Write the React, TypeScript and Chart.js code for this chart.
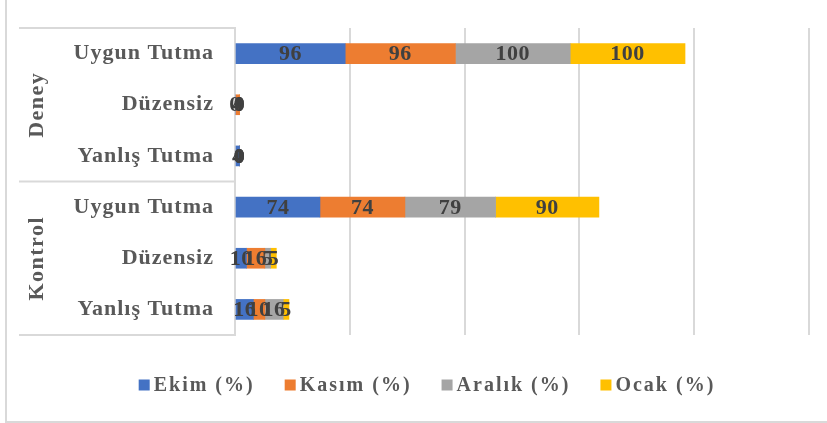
import React, { useEffect, useRef } from "react";
import { Chart, registerables } from "chart.js";

Chart.register(...registerables);

const categories = ["Uygun Tutma", "Düzensiz", "Yanlış Tutma", "Uygun Tutma", "Düzensiz", "Yanlış Tutma"];
const groups = ["Deney", "Kontrol"];
const groupSizes = [3, 3];
const seriesNames = ["Ekim (%)", "Kasım (%)", "Aralık (%)", "Ocak (%)"];
const seriesColors = ["#4472C4", "#ED7D31", "#A5A5A5", "#FFC000"];
const ekim = [96, 0, 4, 74, 10, 16];
const kasim = [96, 4, 0, 74, 16, 10];
const aralik = [100, 0, 0, 79, 5, 16];
const ocak = [100, 0, 0, 90, 5, 5];
const xMax = 500;
const xStep = 100;

const FONT = "'Liberation Serif', 'Times New Roman', serif";
const GRID = "#d9d9d9";

const spacingPlugin = {
  id: "spacing",
  beforeLayout(chart: any) {
    chart.ctx.letterSpacing = "1px";
  },
  beforeDraw(chart: any) {
    chart.ctx.letterSpacing = "1px";
  },
};

const decorPlugin = {
  id: "decor",
  afterDatasetsDraw(chart: any) {
    const ctx = chart.ctx;
    ctx.save();
    ctx.letterSpacing = "0.5px";
    ctx.font = `bold 22px ${FONT}`;
    ctx.fillStyle = "#404040";
    ctx.textAlign = "center";
    ctx.textBaseline = "middle";
    chart.data.datasets.forEach((ds: any, di: number) => {
      const meta = chart.getDatasetMeta(di);
      meta.data.forEach((el: any, i: number) => {
        const x = (el.x + el.base) / 2;
        ctx.fillText(String(ds.data[i]), x, el.y + 1);
      });
    });
    ctx.restore();
  },
  afterDraw(chart: any) {
    const ctx = chart.ctx;
    const y = chart.scales.y;
    const area = chart.chartArea;
    ctx.save();
    ctx.strokeStyle = GRID;
    ctx.lineWidth = 2;
    const boundaries: number[] = [area.top];
    let idx = 0;
    groupSizes.forEach((n) => {
      idx += n;
      if (idx < categories.length) {
        boundaries.push((y.getPixelForValue(idx - 1) + y.getPixelForValue(idx)) / 2);
      }
    });
    boundaries.push(area.bottom);
    boundaries.forEach((b) => {
      ctx.beginPath();
      ctx.moveTo(19, b);
      ctx.lineTo(area.left, b);
      ctx.stroke();
    });
    ctx.letterSpacing = "1.5px";
    ctx.font = `bold 22px ${FONT}`;
    ctx.fillStyle = "#595959";
    ctx.textAlign = "center";
    ctx.textBaseline = "middle";
    for (let g = 0; g < groups.length; g++) {
      const cy = (boundaries[g] + boundaries[g + 1]) / 2;
      ctx.save();
      ctx.translate(37, cy);
      ctx.rotate(-Math.PI / 2);
      ctx.fillText(groups[g], 0, 0);
      ctx.restore();
    }
    ctx.letterSpacing = "2px";
    ctx.font = `bold 20px ${FONT}`;
    ctx.textAlign = "left";
    const box = 11;
    const gap = 4;
    const itemGap = 30;
    const items = chart.data.datasets.map((ds: any) => ({
      label: ds.label,
      color: ds.backgroundColor,
      w: ctx.measureText(ds.label).width,
    }));
    const total = items.reduce((s: number, it: any) => s + box + gap + it.w, 0) + itemGap * (items.length - 1);
    let x = 427 - total / 2;
    const ly = 385;
    items.forEach((it: any) => {
      ctx.fillStyle = it.color;
      ctx.fillRect(x, ly - box / 2, box, box);
      ctx.fillStyle = "#595959";
      ctx.fillText(it.label, x + box + gap, ly + 1);
      x += box + gap + it.w + itemGap;
    });
    ctx.restore();
  },
};

export default function App() {
  const ref = useRef<HTMLCanvasElement>(null);
  useEffect(() => {
    if (!ref.current) return;
    const values = [ekim, kasim, aralik, ocak];
    const chart = new Chart(ref.current, {
      type: "bar",
      data: {
        labels: categories,
        datasets: seriesNames.map((name, i) => ({
          label: name,
          data: values[i],
          backgroundColor: seriesColors[i],
          borderWidth: 0,
          barThickness: 20,
        })),
      },
      options: {
        indexAxis: "y",
        animation: false,
        responsive: false,
        layout: { padding: { top: 28, right: 18, bottom: 88, left: 0 } },
        plugins: { legend: { display: false }, tooltip: { enabled: false } },
        scales: {
          x: {
            stacked: true,
            min: 0,
            max: xMax,
            ticks: { stepSize: xStep, display: false },
            grid: { color: GRID, lineWidth: 2, drawTicks: false },
            border: { display: false },
            afterFit: (s: any) => {
              s.height = 0;
              s.paddingLeft = 0;
              s.paddingRight = 0;
            },
          },
          y: {
            stacked: true,
            grid: { display: false, drawTicks: false },
            border: { display: true, color: GRID, width: 2 },
            ticks: {
              padding: 21,
              color: "#595959",
              font: { family: FONT, size: 22, weight: "bold" },
            },
            afterFit: (s: any) => {
              s.width = 235;
              s.paddingTop = 0;
              s.paddingBottom = 0;
            },
          },
        },
      },
      plugins: [spacingPlugin, decorPlugin],
    } as any);
    return () => chart.destroy();
  }, []);
  return (
    <div style={{ position: "absolute", left: 0, top: 0, width: 827, height: 423, background: "#fff", overflow: "hidden" }}>
      <div
        style={{
          position: "absolute",
          left: 5,
          top: -4,
          width: 830,
          height: 425,
          borderLeft: "2px solid #d9d9d9",
          borderBottom: "2px solid #d9d9d9",
        }}
      />
      <canvas ref={ref} width={827} height={423} style={{ position: "absolute", left: 0, top: 0 }} />
    </div>
  );
}
